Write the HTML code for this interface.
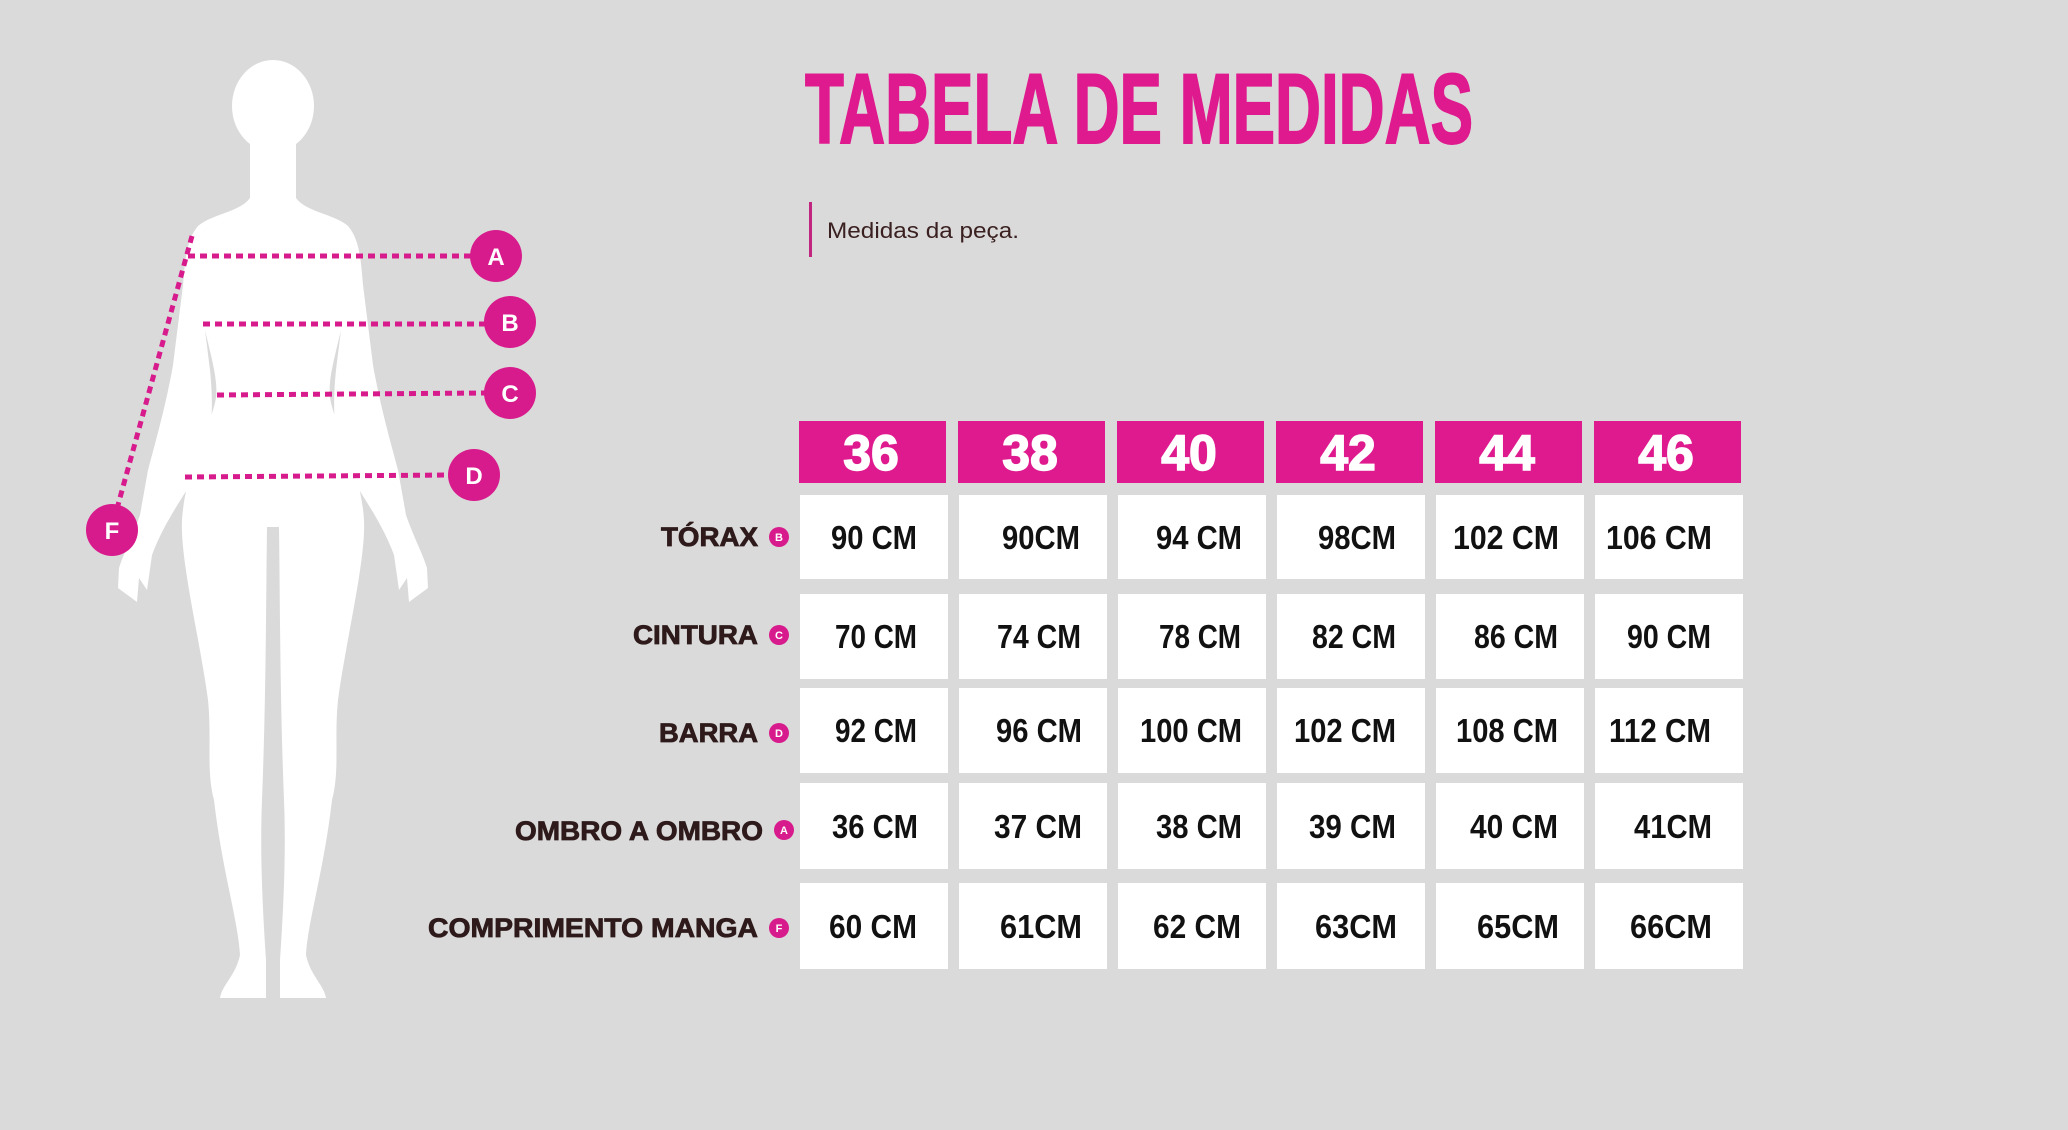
<!DOCTYPE html>
<html><head><meta charset="utf-8"><style>
html,body{margin:0;padding:0;background:#dadada;}
svg{display:block;}
</style></head><body>
<svg width="2068" height="1130" viewBox="0 0 2068 1130" xmlns="http://www.w3.org/2000/svg">
<rect width="2068" height="1130" fill="#dadada"/>
<g fill="#ffffff">
<ellipse cx="273" cy="106" rx="41" ry="46"/>
<path id="half" d="M273,140 L250,140 L250,198 C240,212 212,214 198,226 C186,240 185,262 183,285 L173,365 C166,405 156,440 148,470 L140,515 C132,538 124,552 119,568 L118,588 L137,602 L139,578 L147,590 L152,555 C165,520 185,495 200,468 C212,440 214,410 210,370 L205,330 C212,360 218,380 216,398 C210,430 185,470 182,520 C180,560 200,640 208,700 C212,740 206,770 214,800 C222,870 238,920 240,955 C236,975 222,985 220,998 L266,998 L266,960 C262,900 260,850 262,800 C266,700 266,600 267,527 L273,527 Z"/>
<use href="#half" transform="translate(546,0) scale(-1,1)"/>
</g>
<g stroke="#d81b8c" stroke-width="5" stroke-dasharray="7,5" fill="none">
<line x1="188" y1="256" x2="472" y2="256"/>
<line x1="203" y1="324" x2="486" y2="324"/>
<line x1="217" y1="395" x2="486" y2="393"/>
<line x1="185" y1="477" x2="450" y2="475"/>
<line x1="192" y1="236" x2="118" y2="505"/>
</g>
<g fill="#d81b8c">
<circle cx="496" cy="256" r="26"/>
<circle cx="510" cy="322" r="26"/>
<circle cx="510" cy="393" r="26"/>
<circle cx="474" cy="475" r="26"/>
<circle cx="112" cy="530" r="26"/>
</g>
<g fill="#fff" font-family="Liberation Sans, sans-serif" font-weight="bold" font-size="24" text-anchor="middle">
<text x="496" y="265">A</text>
<text x="510" y="331">B</text>
<text x="510" y="402">C</text>
<text x="474" y="484">D</text>
<text x="112" y="539">F</text>
</g>
<text x="805" y="143" font-family="Liberation Sans Narrow, Liberation Sans, sans-serif" font-weight="bold" font-size="99" fill="#df1a8e" stroke="#df1a8e" stroke-width="2" textLength="668" lengthAdjust="spacingAndGlyphs">TABELA DE MEDIDAS</text>
<rect x="809" y="202" width="3" height="55" fill="#c2257f"/>
<text x="827" y="238" font-family="Liberation Sans, sans-serif" font-size="22" fill="#3a2020" textLength="192" lengthAdjust="spacingAndGlyphs">Medidas da peça.</text>
<g font-family="Liberation Sans, sans-serif" font-weight="bold" font-size="27" fill="#2e1a1a" stroke="#2e1a1a" stroke-width="0.8">
<text x="661" y="546" textLength="97" lengthAdjust="spacingAndGlyphs">TÓRAX</text>
<text x="633" y="644" textLength="125" lengthAdjust="spacingAndGlyphs">CINTURA</text>
<text x="659" y="742" textLength="99" lengthAdjust="spacingAndGlyphs">BARRA</text>
<text x="515" y="840" textLength="248" lengthAdjust="spacingAndGlyphs">OMBRO A OMBRO</text>
<text x="428" y="937" textLength="330" lengthAdjust="spacingAndGlyphs">COMPRIMENTO MANGA</text>
</g>
<g fill="#d81b8c">
<circle cx="779" cy="537" r="10"/><circle cx="779" cy="635" r="10"/><circle cx="779" cy="733" r="10"/><circle cx="784" cy="830" r="10"/><circle cx="779" cy="928" r="10"/>
</g>
<g fill="#fff" font-family="Liberation Sans, sans-serif" font-weight="bold" font-size="11" text-anchor="middle">
<text x="779" y="541">B</text><text x="779" y="639">C</text><text x="779" y="737">D</text><text x="784" y="834">A</text><text x="779" y="932">F</text>
</g>
<g fill="#df1a8e">
<rect x="799" y="421" width="147" height="62"/>
<rect x="958" y="421" width="147" height="62"/>
<rect x="1117" y="421" width="147" height="62"/>
<rect x="1276" y="421" width="147" height="62"/>
<rect x="1435" y="421" width="147" height="62"/>
<rect x="1594" y="421" width="147" height="62"/>
</g>
<g fill="#fff" stroke="#fff" stroke-width="1.5" font-family="Liberation Sans Narrow, Liberation Sans, sans-serif" font-weight="bold" font-size="50" text-anchor="middle">
<text x="871" y="470">36</text><text x="1030" y="470">38</text><text x="1189" y="470">40</text><text x="1348" y="470">42</text><text x="1507" y="470">44</text><text x="1666" y="470">46</text>
</g>
<g fill="#fff">
<rect x="800" y="495" width="148" height="84"/><rect x="959" y="495" width="148" height="84"/><rect x="1118" y="495" width="148" height="84"/><rect x="1277" y="495" width="148" height="84"/><rect x="1436" y="495" width="148" height="84"/><rect x="1595" y="495" width="148" height="84"/>
<rect x="800" y="594" width="148" height="85"/><rect x="959" y="594" width="148" height="85"/><rect x="1118" y="594" width="148" height="85"/><rect x="1277" y="594" width="148" height="85"/><rect x="1436" y="594" width="148" height="85"/><rect x="1595" y="594" width="148" height="85"/>
<rect x="800" y="688" width="148" height="85"/><rect x="959" y="688" width="148" height="85"/><rect x="1118" y="688" width="148" height="85"/><rect x="1277" y="688" width="148" height="85"/><rect x="1436" y="688" width="148" height="85"/><rect x="1595" y="688" width="148" height="85"/>
<rect x="800" y="783" width="148" height="86"/><rect x="959" y="783" width="148" height="86"/><rect x="1118" y="783" width="148" height="86"/><rect x="1277" y="783" width="148" height="86"/><rect x="1436" y="783" width="148" height="86"/><rect x="1595" y="783" width="148" height="86"/>
<rect x="800" y="883" width="148" height="86"/><rect x="959" y="883" width="148" height="86"/><rect x="1118" y="883" width="148" height="86"/><rect x="1277" y="883" width="148" height="86"/><rect x="1436" y="883" width="148" height="86"/><rect x="1595" y="883" width="148" height="86"/>
</g>
<g fill="#111" font-family="Liberation Sans Narrow, Liberation Sans, sans-serif" font-weight="bold" font-size="33">
<text x="831" y="549" textLength="86" lengthAdjust="spacingAndGlyphs">90 CM</text>
<text x="1002" y="549" textLength="78" lengthAdjust="spacingAndGlyphs">90CM</text>
<text x="1156" y="549" textLength="86" lengthAdjust="spacingAndGlyphs">94 CM</text>
<text x="1318" y="549" textLength="78" lengthAdjust="spacingAndGlyphs">98CM</text>
<text x="1453" y="549" textLength="106" lengthAdjust="spacingAndGlyphs">102 CM</text>
<text x="1606" y="549" textLength="106" lengthAdjust="spacingAndGlyphs">106 CM</text>
<text x="835" y="648" textLength="82" lengthAdjust="spacingAndGlyphs">70 CM</text>
<text x="997" y="648" textLength="84" lengthAdjust="spacingAndGlyphs">74 CM</text>
<text x="1159" y="648" textLength="82" lengthAdjust="spacingAndGlyphs">78 CM</text>
<text x="1312" y="648" textLength="84" lengthAdjust="spacingAndGlyphs">82 CM</text>
<text x="1474" y="648" textLength="84" lengthAdjust="spacingAndGlyphs">86 CM</text>
<text x="1627" y="648" textLength="84" lengthAdjust="spacingAndGlyphs">90 CM</text>
<text x="835" y="742" textLength="82" lengthAdjust="spacingAndGlyphs">92 CM</text>
<text x="996" y="742" textLength="86" lengthAdjust="spacingAndGlyphs">96 CM</text>
<text x="1140" y="742" textLength="102" lengthAdjust="spacingAndGlyphs">100 CM</text>
<text x="1294" y="742" textLength="102" lengthAdjust="spacingAndGlyphs">102 CM</text>
<text x="1456" y="742" textLength="102" lengthAdjust="spacingAndGlyphs">108 CM</text>
<text x="1609" y="742" textLength="102" lengthAdjust="spacingAndGlyphs">112 CM</text>
<text x="832" y="838" textLength="86" lengthAdjust="spacingAndGlyphs">36 CM</text>
<text x="994" y="838" textLength="88" lengthAdjust="spacingAndGlyphs">37 CM</text>
<text x="1156" y="838" textLength="86" lengthAdjust="spacingAndGlyphs">38 CM</text>
<text x="1309" y="838" textLength="87" lengthAdjust="spacingAndGlyphs">39 CM</text>
<text x="1470" y="838" textLength="88" lengthAdjust="spacingAndGlyphs">40 CM</text>
<text x="1634" y="838" textLength="78" lengthAdjust="spacingAndGlyphs">41CM</text>
<text x="829" y="938" textLength="88" lengthAdjust="spacingAndGlyphs">60 CM</text>
<text x="1000" y="938" textLength="82" lengthAdjust="spacingAndGlyphs">61CM</text>
<text x="1153" y="938" textLength="88" lengthAdjust="spacingAndGlyphs">62 CM</text>
<text x="1315" y="938" textLength="82" lengthAdjust="spacingAndGlyphs">63CM</text>
<text x="1477" y="938" textLength="82" lengthAdjust="spacingAndGlyphs">65CM</text>
<text x="1630" y="938" textLength="82" lengthAdjust="spacingAndGlyphs">66CM</text>
</g>
</svg>
</body></html>
